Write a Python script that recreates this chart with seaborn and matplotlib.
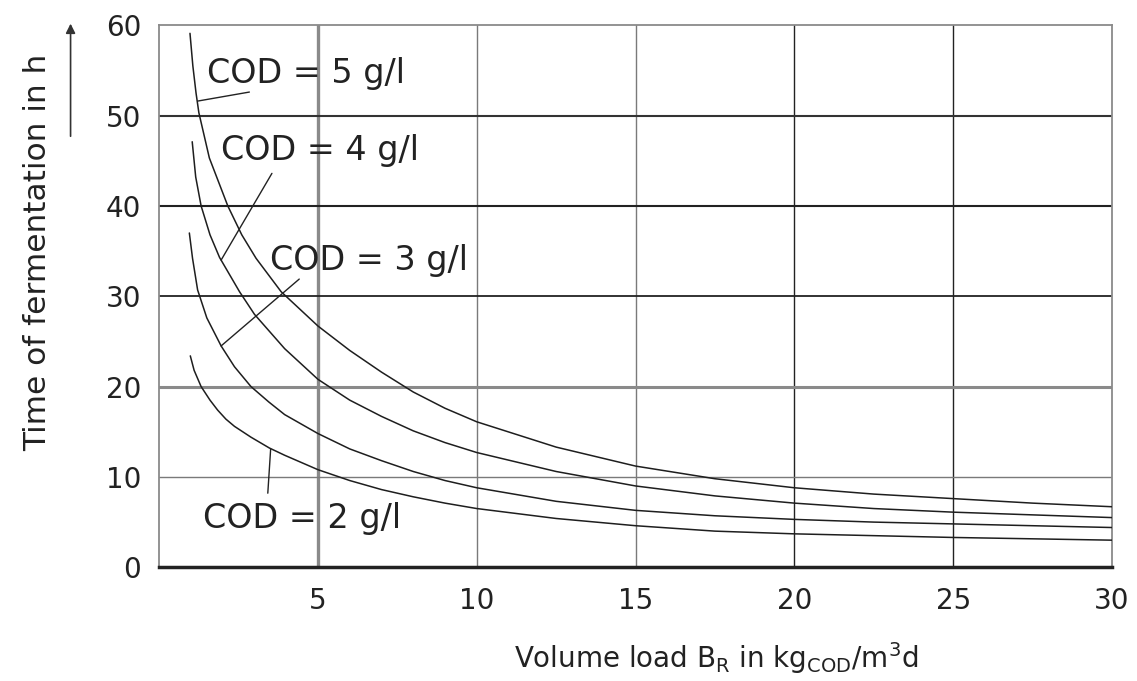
import pandas as pd
import matplotlib.pyplot as plt
import seaborn as sns

sns.set_style("white")
plt.rcParams['font.family'] = ['DejaVu Sans']

# values (volume load in kg/m3d, time in h)
cod5_load = [0.97, 1.06, 1.16, 1.25, 1.58, 2.16, 2.6, 3.05, 3.84, 5, 6, 7, 8, 9, 10, 12.5, 15, 17.5, 20, 22.5, 25, 27.5, 30]
cod5_time = [59.1, 55.5, 52.5, 50.3, 45.3, 40.0, 36.8, 34.2, 30.5, 26.7, 24.0, 21.6, 19.4, 17.6, 16.1, 13.3, 11.2, 9.8, 8.8, 8.1, 7.6, 7.1, 6.7]

cod4_load = [1.04, 1.15, 1.32, 1.6, 1.9, 2.53, 3.0, 3.95, 5, 6, 7, 8, 9, 10, 12.5, 15, 17.5, 20, 22.5, 25, 30]
cod4_time = [47.1, 43.2, 40.0, 36.8, 34.3, 30.5, 28.0, 24.2, 20.8, 18.5, 16.7, 15.1, 13.8, 12.7, 10.6, 9.0, 7.9, 7.1, 6.5, 6.1, 5.5]

cod3_load = [0.95, 1.05, 1.21, 1.5, 1.95, 2.37, 2.89, 3.45, 3.95, 5, 6, 7, 8, 9, 10, 12.5, 15, 17.5, 20, 22.5, 25, 30]
cod3_time = [37.0, 34.2, 30.7, 27.6, 24.5, 22.2, 20.0, 18.3, 16.9, 14.8, 13.1, 11.8, 10.6, 9.6, 8.8, 7.3, 6.3, 5.7, 5.3, 5.0, 4.8, 4.4]

cod2_load = [0.98, 1.1, 1.32, 1.6, 1.84, 2.1, 2.37, 2.89, 3.47, 3.95, 5, 6, 7, 8, 9, 10, 12.5, 15, 17.5, 20, 25, 30]
cod2_time = [23.4, 21.8, 20.0, 18.5, 17.4, 16.4, 15.6, 14.4, 13.2, 12.4, 10.8, 9.6, 8.6, 7.8, 7.1, 6.5, 5.4, 4.6, 4.0, 3.7, 3.3, 3.0]

cod_labels = ['COD = 5 g/l', 'COD = 4 g/l', 'COD = 3 g/l', 'COD = 2 g/l']
x_ticks = [5, 10, 15, 20, 25, 30]
y_ticks = [0, 10, 20, 30, 40, 50, 60]

frames = []
for lab, xs, ys in zip(cod_labels,
                       [cod5_load, cod4_load, cod3_load, cod2_load],
                       [cod5_time, cod4_time, cod3_time, cod2_time]):
    frames.append(pd.DataFrame({'load': xs, 'time': ys, 'cod': lab}))
df = pd.concat(frames, ignore_index=True)

fig = plt.figure(figsize=(11.37, 6.81), dpi=100)
ax = fig.add_axes([0.140, 0.167, 0.838, 0.796])

# grid lines, mixed grey / black like the scanned original
vgrid = {5: ('#8a8a8a', 2.4), 10: ('#7a7a7a', 1.0), 15: ('#7a7a7a', 1.0),
         20: ('#222222', 1.0), 25: ('#222222', 1.0)}
hgrid = {10: ('#7a7a7a', 1.0), 20: ('#8a8a8a', 2.2), 30: ('#222222', 1.3),
         40: ('#222222', 1.5), 50: ('#333333', 1.5)}
for v, (c, w) in vgrid.items():
    ax.axvline(v, color=c, lw=w, zorder=1)
for h, (c, w) in hgrid.items():
    ax.axhline(h, color=c, lw=w, zorder=1)

sns.lineplot(data=df, x='load', y='time', units='cod', estimator=None, sort=False,
             color='#1e1e1e', lw=1.1, ax=ax, zorder=3)

ax.set_xlim(0, 30)
ax.set_ylim(0, 60)
ax.set_xticks(x_ticks)
ax.set_yticks(y_ticks)
ax.tick_params(axis='both', length=0, labelsize=20, colors='#222222')
ax.tick_params(axis='x', pad=14)
ax.tick_params(axis='y', pad=13)

for side in ['top', 'right', 'left']:
    ax.spines[side].set_color('#8a8a8a')
    ax.spines[side].set_linewidth(1.3)
ax.spines['bottom'].set_color('#222222')
ax.spines['bottom'].set_linewidth(2.5)

ax.set_xlabel(r'Volume load B$_\mathrm{R}$ in kg$_\mathrm{COD}$/m$^3$d', fontsize=20, color='#222222')
ax.xaxis.set_label_coords(0.585, -0.135)
ax.set_ylabel('Time of fermentation in h', fontsize=22.5, color='#222222')
ax.yaxis.set_label_coords(-0.112, 0.58)

# arrow beside the y label
ax.annotate('', xy=(-0.093, 1.008), xytext=(-0.093, 0.79), xycoords='axes fraction',
            annotation_clip=False,
            arrowprops=dict(arrowstyle='-|>', color='#333333', lw=1.2, mutation_scale=14))

# curve labels with leader lines
text_pos = [(1.5, 53.6), (1.95, 45.1), (3.49, 32.9), (1.39, 4.3)]
leaders = [((1.21, 51.6), (2.84, 52.6)),
           ((1.95, 34.0), (3.55, 43.6)),
           ((1.95, 24.5), (4.41, 31.9)),
           ((3.51, 13.1), (3.42, 8.2))]
for lab, (tx, ty), (p0, p1) in zip(cod_labels, text_pos, leaders):
    ax.text(tx, ty, lab, fontsize=24, ha='left', va='baseline', color='#222222', zorder=4)
    ax.plot([p0[0], p1[0]], [p0[1], p1[1]], color='#222222', lw=1.0, zorder=3)

plt.savefig('out.png', dpi=100)
